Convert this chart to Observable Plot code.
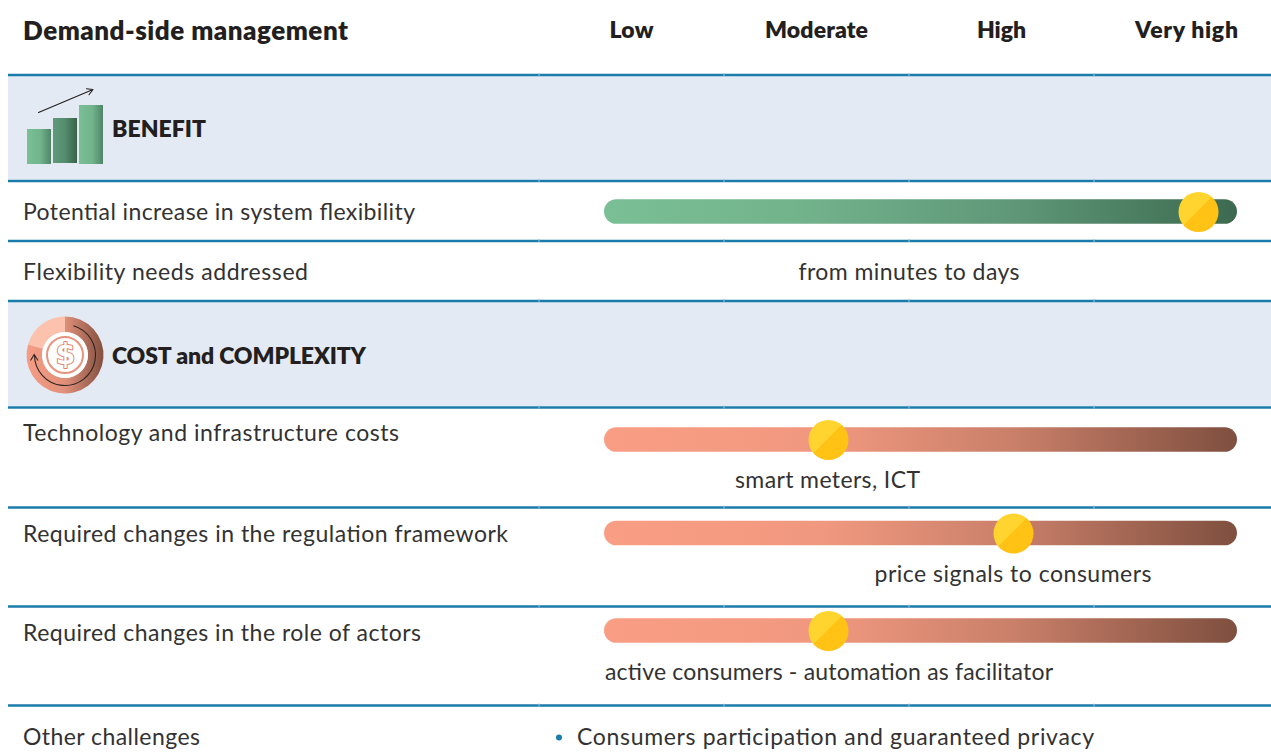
<!DOCTYPE html>
<html><head><meta charset="utf-8">
<script src="https://cdn.jsdelivr.net/npm/d3@7"></script>
<script src="https://cdn.jsdelivr.net/npm/@observablehq/plot@0.6"></script>
<style>html,body{margin:0;padding:0;background:#fff;overflow:hidden}svg{display:block}</style>
</head><body><div id="chart"></div>
<script>
// Data
const title = "Demand-side management";
const levels = ["Low", "Moderate", "High", "Very high"];
const levelValues = [1, 2, 3, 4];
const sections = ["BENEFIT", "COST and COMPLEXITY"];
const rowLabels = ["Potential increase in system flexibility", "Flexibility needs addressed", "Technology and infrastructure costs", "Required changes in the regulation framework", "Required changes in the role of actors", "Other challenges"];
const ratedRows = ["Potential increase in system flexibility", "Technology and infrastructure costs", "Required changes in the regulation framework", "Required changes in the role of actors"];
const ratings = [4.065, 2.065, 3.065, 2.065];
const notes = ["from minutes to days", "smart meters, ICT", "price signals to consumers", "active consumers - automation as facilitator"];
const bullets = ["Consumers participation and guaranteed privacy"];
const iconBarHeights = [35, 46, 59];

// Layout (page pixels, mapped through the scales)
const W = 1271, H = 756;
const px = p => (p - 631) / 185 + 1; // pixel column -> rating units
const ruleY = [74.5, 180.5, 240.5, 300.5, 407, 507, 606, 705];
const seams = [0.5, 1.5, 2.5, 3.5];
const labelY = [212, 272, 433, 534, 633, 737];
const barY = [211.5, 439.5, 533, 630.5];
const noteLayout = [[908.5, 272, "middle"], [827, 480, "middle"], [1012.5, 574, "middle"], [604.5, 672, "start"]];
const band = [[75.5, 179.5, sections[0], 129], [301.5, 406, sections[1], 356]];
const textWidths = new Map([
  [title, 325], ["Low", 44], ["Moderate", 103], ["High", 49], ["Very high", 103],
  [sections[0], 94], [sections[1], 254],
  [rowLabels[0], 392], [rowLabels[1], 285], [rowLabels[2], 376], [rowLabels[3], 485], [rowLabels[4], 398], [rowLabels[5], 177],
  [notes[0], 221], [notes[1], 185], [notes[2], 277], [notes[3], 448], [bullets[0], 517]
]);

const ink = "#333232", bold = "#231f20", teal = "#1b7bab";
const font = "Lato, sans-serif";
const barStart = px(604), barEnd = px(1237);

const ratedData = ratedRows.map((r, i) => ({r, v: ratings[i], y: barY[i], grad: i === 0 ? "url(#gGreen)" : "url(#gPeach)"}));
const cx = 65, cy = 355;

function coinIcon(index, {x, y}) {
  const sx = p => x(px(p)), X = sx(cx), Y = y(cy);
  const g = d3.create("svg:g");
  const arc = d3.arc();
  const deg = Math.PI / 180;
  g.append("path").attr("transform", `translate(${X},${Y})`).attr("fill", "#fcc2ae")
    .attr("d", arc({innerRadius: 23, outerRadius: 38.5, startAngle: 286 * deg, endAngle: 360 * deg}));
  g.append("path").attr("transform", `translate(${X},${Y})`).attr("fill", "url(#gCoin)")
    .attr("d", arc({innerRadius: 23, outerRadius: 38.5, startAngle: 0, endAngle: 286 * deg}));
  g.append("circle").attr("cx", X).attr("cy", Y).attr("r", 23).attr("fill", "#fff");
  g.append("circle").attr("cx", X).attr("cy", Y).attr("r", 18).attr("fill", "none").attr("stroke", "#e8937c").attr("stroke-width", 2);
  const p = d3.path();
  p.arc(X, Y, 30.5, -74 * deg, 180 * deg);
  p.moveTo(X - 34.5, Y + 5.5); p.lineTo(X - 30.8, Y - 0.5); p.lineTo(X - 27, Y + 5.5);
  g.append("path").attr("d", p.toString()).attr("fill", "none").attr("stroke", "#2b2422").attr("stroke-width", 1.1);
  return g.node();
}

const iconBarX1 = (d, i) => px(27 + 26 * i);
const iconBarX2 = (d, i) => px(51 + 26 * i);

const chart = Plot.plot({
  width: W, height: H, margin: 0,
  x: {domain: [px(0), px(W)], range: [0, W], axis: null},
  y: {domain: [0, H], range: [0, H], axis: null},
  style: {background: "#fff", fontFamily: font},
  marks: [
    Plot.rect(band, {x1: px(8), x2: px(W), y1: d => d[0], y2: d => d[1], fill: "#e3eaf3"}),
    Plot.ruleY(ruleY, {x1: px(8), x2: px(W), stroke: teal, strokeWidth: 2.5}),
    Plot.ruleX(ruleY.flatMap(y => seams.map(s => ({s, y}))), {x: "s", y1: d => d.y - 1.5, y2: d => d.y + 1.5, stroke: "#9cc5db", strokeWidth: 1}),
    Plot.text([title], {x: px(22.5), y: 31, text: d => d, textAnchor: "start", fontSize: 26, fontWeight: 800, fill: bold, fontFamily: font}),
    Plot.text(levels, {x: (d, i) => levelValues[i], y: 30, text: d => d, fontSize: 23, fontWeight: 800, fill: bold, fontFamily: font}),
    Plot.text(band, {x: px(111.5), y: d => d[3], text: d => d[2], textAnchor: "start", fontSize: 23, fontWeight: 800, fill: bold, fontFamily: font}),
    Plot.text(rowLabels, {x: px(22.5), y: (d, i) => labelY[i], text: d => d, textAnchor: "start", fontSize: 23, fontWeight: 400, fill: ink, fontFamily: font}),
    ...ratedData.map(d => Plot.rect([d], {x1: barStart, x2: barEnd, y1: e => e.y - 12.3, y2: e => e.y + 12.3, rx: 12.3, fill: d.grad})),
    Plot.dot(ratedData, {x: "v", y: "y", r: 20, fill: "url(#gCoinDot)"}),
    Plot.text(notes, {x: (d, i) => px(noteLayout[i][0]), y: (d, i) => noteLayout[i][1], text: d => d, textAnchor: "middle", fontSize: 23, fill: ink, fontFamily: font, filter: (d, i) => noteLayout[i][2] === "middle"}),
    Plot.text(notes, {x: (d, i) => px(noteLayout[i][0]), y: (d, i) => noteLayout[i][1], text: d => d, textAnchor: "start", fontSize: 23, fill: ink, fontFamily: font, filter: (d, i) => noteLayout[i][2] === "start"}),
    Plot.dot(bullets, {x: px(558.5), y: 737, r: 3, fill: teal}),
    Plot.text(bullets, {x: px(576.5), y: 737, text: d => d, textAnchor: "start", fontSize: 23, fill: ink, fontFamily: font}),
    Plot.rect(iconBarHeights, {x1: iconBarX1, x2: iconBarX2, y1: d => 164 - d, y2: 164, fill: "url(#gIcon)", filter: (d, i) => i !== 1}),
    Plot.rect(iconBarHeights, {x1: iconBarX1, x2: iconBarX2, y1: d => 164 - d, y2: 163, fill: "url(#gIconDark)", filter: (d, i) => i === 1}),
    Plot.arrow([0], {x1: px(38), y1: 112, x2: px(92.5), y2: 89, bend: 0, stroke: "#231f20", strokeWidth: 1.1, headLength: 9}),
    coinIcon,
    Plot.text(["$"], {x: px(cx), y: cy, text: d => d, fontSize: 28, fontWeight: 700, fill: "#fff", stroke: "#e0836b", strokeWidth: 2, fontFamily: "DejaVu Sans"})
  ]
});

function grad(defs, id, stops, diag) {
  const g = defs.append("linearGradient").attr("id", id).attr("x1", 0).attr("y1", 0).attr("x2", 1).attr("y2", diag ? 1 : 0);
  stops.forEach(([o, c]) => g.append("stop").attr("offset", o).attr("stop-color", c));
}
const defs = d3.select(chart).insert("defs", ":first-child");
grad(defs, "gGreen", [[0, "#7abf95"], [0.3, "#73b38c"], [0.65, "#5f9778"], [1, "#3c6a50"]]);
grad(defs, "gPeach", [[0, "#f99e85"], [0.35, "#f0987f"], [0.65, "#c97f69"], [1, "#7f4f3f"]]);
grad(defs, "gCoin", [[0, "#f69c84"], [0.5, "#e0907a"], [1, "#83503f"]]);
grad(defs, "gIcon", [[0, "#7abf95"], [0.55, "#72b48c"], [1, "#4f8568"]]);
grad(defs, "gIconDark", [[0, "#5f9a7a"], [0.5, "#558c6e"], [1, "#386349"]]);
grad(defs, "gCoinDot", [[0, "#ffd42f"], [0.47, "#ffd42f"], [0.47, "#ffc215"], [1, "#ffc215"]], true);
document.getElementById("chart").append(chart);
d3.select(chart).selectAll("text").each(function () {
  const w = textWidths.get(this.textContent);
  if (w) this.setAttribute("textLength", w);
});
</script></body></html>
